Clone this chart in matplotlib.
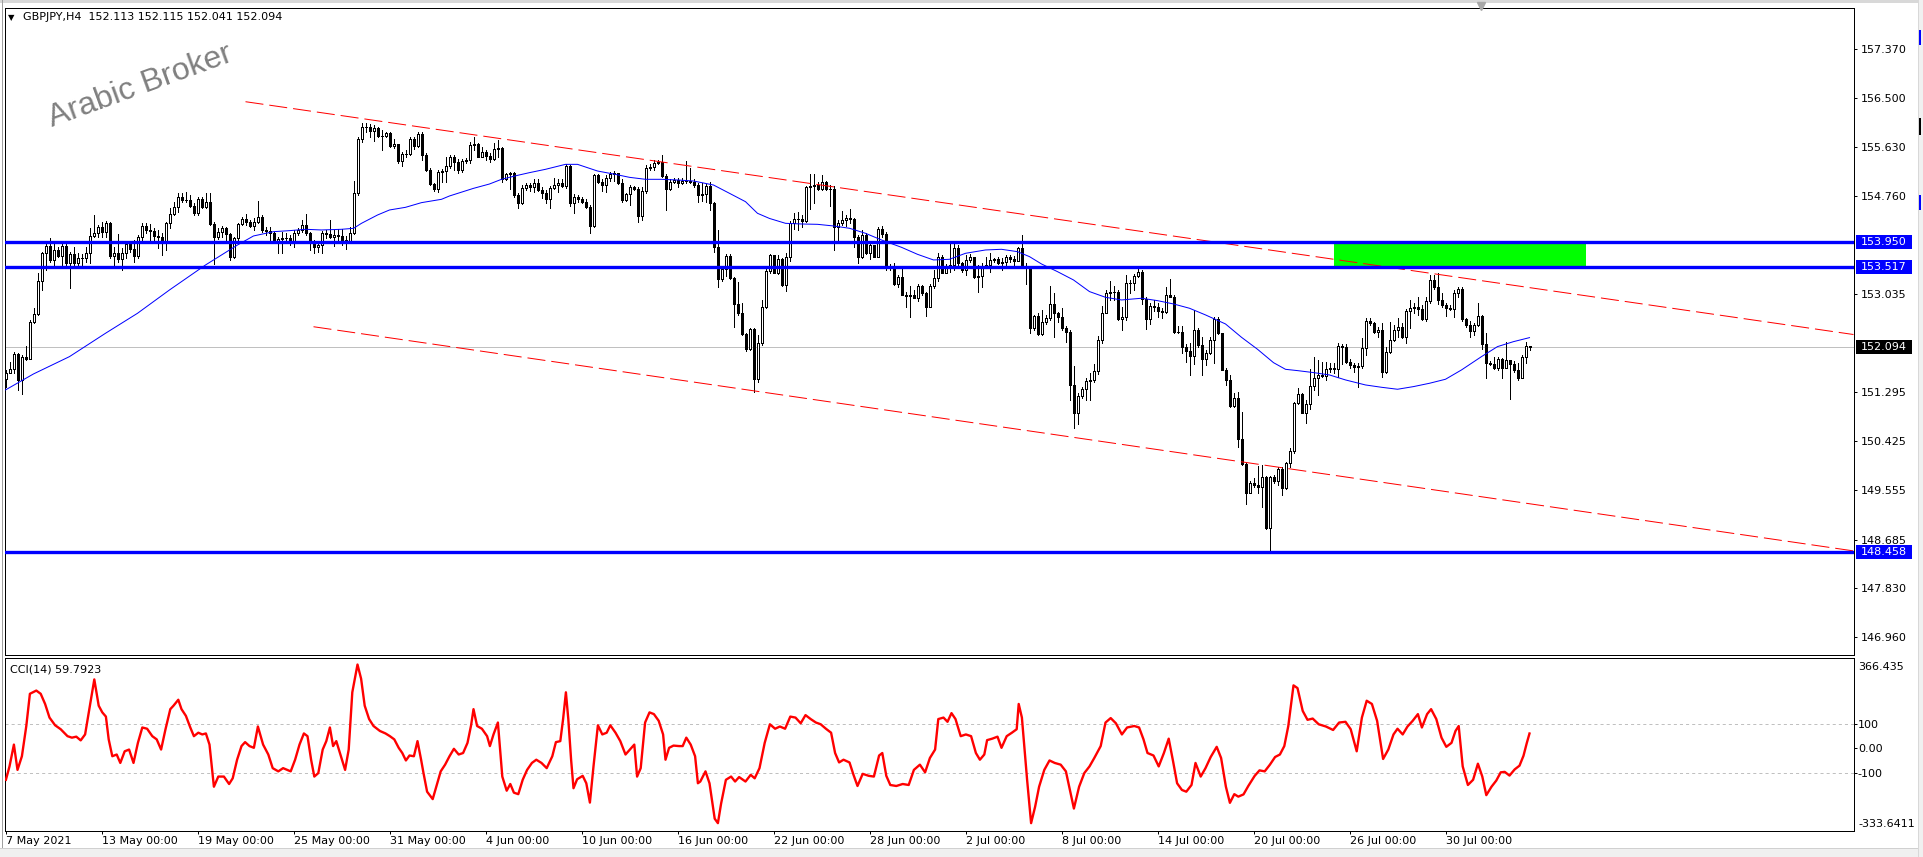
import matplotlib
matplotlib.use("Agg")
import matplotlib.pyplot as plt
from matplotlib.patches import Rectangle
from matplotlib.lines import Line2D
import numpy as np

W, H = 1924, 857
plt.rcParams['font.family'] = ['DejaVu Sans']
plt.rcParams['lines.scale_dashes'] = False

# ---------------- data ----------------
symbol_text = "GBPJPY,H4  152.113 152.115 152.041 152.094"
watermark_text = "Arabic Broker"
cci_title = "CCI(14) 59.7923"

open_first = 151.523
closes = [
151.641,151.700,151.965,151.511,151.924,151.888,152.544,152.673,153.269,153.765,153.889,153.635,
153.812,153.706,153.883,153.576,153.741,153.576,153.670,153.676,153.765,154.060,154.119,154.213,
154.136,154.284,153.706,153.753,153.647,153.765,153.918,153.824,153.706,154.048,154.237,154.166,
154.154,154.060,154.036,153.942,154.284,154.449,154.567,154.744,154.697,154.691,154.591,154.461,
154.714,154.579,154.667,154.272,154.048,154.137,154.207,154.095,153.694,154.018,154.272,154.355,
154.313,154.237,154.313,154.390,154.166,154.154,154.107,153.960,154.001,154.030,154.018,153.930,
154.107,154.166,154.248,154.107,153.960,153.859,153.906,154.119,154.095,154.048,154.071,154.054,
153.989,153.960,154.107,154.815,155.771,155.983,155.989,155.924,155.965,155.830,155.824,155.877,
155.659,155.682,155.393,155.511,155.505,155.771,155.653,155.859,155.493,155.228,154.980,154.886,
155.198,155.210,155.299,155.452,155.375,155.228,155.393,155.405,155.665,155.688,155.464,155.552,
155.476,155.417,155.594,155.611,155.063,155.157,155.181,154.785,154.638,154.903,154.962,154.921,
154.992,154.874,154.826,154.720,154.903,154.962,154.992,154.945,155.299,154.638,154.744,154.714,
154.661,154.579,154.237,155.139,155.009,154.962,155.080,155.157,155.169,155.004,154.697,154.797,
154.921,154.891,154.414,154.862,155.257,155.287,155.358,155.375,155.122,154.886,155.021,155.051,
154.992,155.039,155.027,155.015,154.962,154.785,154.797,154.945,154.638,153.871,153.292,153.469,
153.706,153.310,152.856,152.691,152.325,152.054,152.419,151.523,152.160,152.797,153.440,153.723,
153.411,153.647,153.192,153.682,154.296,154.355,154.367,154.331,154.921,154.945,154.968,154.886,
155.010,154.892,154.886,154.225,154.296,154.343,154.373,154.355,154.036,153.682,154.078,153.765,
153.900,153.694,154.178,154.095,153.487,153.529,153.210,153.328,153.016,152.998,153.016,152.968,
153.175,153.045,152.809,153.175,153.310,153.694,153.411,153.529,153.547,153.842,153.576,153.458,
153.635,153.682,153.328,153.352,153.529,153.547,153.635,153.647,153.588,153.600,153.682,153.647,
153.623,153.842,153.529,153.487,152.425,152.644,152.325,152.543,152.602,152.856,152.691,152.632,
152.425,152.366,151.422,150.921,151.228,151.346,151.493,151.511,151.676,152.219,152.703,153.045,
153.075,153.069,152.585,152.620,153.222,153.234,153.352,153.428,152.939,152.585,152.821,152.797,
152.732,152.721,153.016,152.986,152.366,152.354,152.101,152.030,151.936,152.396,152.130,151.877,
151.995,152.219,152.585,152.337,151.688,151.511,151.051,151.187,150.461,150.024,149.517,149.682,
149.653,149.623,149.800,148.886,149.800,149.729,149.930,149.594,150.036,150.254,151.098,151.257,
150.933,151.086,151.405,151.540,151.599,151.582,151.700,151.717,151.700,152.113,152.089,151.835,
151.776,151.747,151.759,152.072,152.561,152.526,152.366,152.396,151.658,152.001,152.219,152.396,
152.443,152.266,152.738,152.779,152.809,152.762,152.585,152.909,153.281,153.151,152.927,152.839,
152.779,152.762,153.045,153.116,152.585,152.485,152.384,152.485,152.644,152.148,151.806,151.794,
151.717,151.877,151.717,151.865,151.788,151.688,151.540,151.924,152.113,152.094]
highs = [
151.688,151.836,152.012,151.983,151.953,152.113,152.573,152.780,153.399,153.782,153.930,154.030,
153.960,153.871,153.960,153.960,153.782,153.871,153.753,153.741,153.871,154.195,154.431,154.254,
154.313,154.331,154.313,153.871,154.089,153.841,153.960,153.960,153.989,154.078,154.284,154.284,
154.272,154.195,154.166,154.107,154.313,154.549,154.667,154.827,154.815,154.844,154.785,154.638,
154.756,154.756,154.815,154.815,154.313,154.195,154.237,154.225,154.107,154.048,154.296,154.402,
154.449,154.343,154.372,154.685,154.431,154.225,154.225,154.137,154.048,154.137,154.107,154.078,
154.166,154.195,154.343,154.449,154.137,153.989,153.942,154.154,154.166,154.343,154.166,154.178,
154.184,154.060,154.225,155.039,155.818,156.066,156.054,156.042,156.030,155.995,155.936,155.906,
155.906,155.771,155.682,155.552,155.582,155.806,155.818,155.901,155.906,155.535,155.257,155.004,
155.228,155.246,155.464,155.493,155.493,155.417,155.417,155.434,155.729,155.818,155.700,155.641,
155.582,155.523,155.700,155.759,155.629,155.181,155.198,155.198,154.815,154.962,154.992,155.004,
155.063,155.063,154.933,154.874,154.945,155.080,155.063,155.063,155.334,155.316,154.803,154.785,
154.756,154.709,154.608,155.157,155.157,155.063,155.139,155.198,155.216,155.122,155.063,154.827,
154.962,154.945,154.921,154.921,155.316,155.334,155.405,155.405,155.493,155.157,155.063,155.080,
155.080,155.080,155.387,155.257,155.063,155.004,154.992,154.974,155.021,154.667,154.166,153.528,
153.741,153.741,153.340,153.251,152.868,152.349,152.425,152.431,152.307,152.927,153.470,153.741,
153.729,153.724,153.665,153.753,154.331,154.461,154.490,154.432,154.945,155.157,155.157,155.022,
155.140,155.039,154.963,154.945,154.343,154.508,154.432,154.532,154.373,154.078,154.166,154.107,
153.918,153.905,154.225,154.237,154.137,153.564,153.576,153.370,153.487,153.075,153.175,153.104,
153.210,153.192,153.075,153.210,153.458,153.753,153.724,153.564,153.960,153.977,153.900,153.606,
153.724,153.741,153.694,153.547,153.576,153.694,153.753,153.665,153.694,153.665,153.724,153.724,
153.706,153.871,154.078,153.576,153.517,152.662,152.691,152.750,152.662,153.175,153.057,152.721,
152.780,152.466,152.396,151.759,151.275,151.393,151.540,151.629,151.794,152.290,152.821,153.104,
153.269,153.175,153.104,152.809,153.370,153.281,153.387,153.505,153.458,152.986,152.868,152.927,
152.868,152.780,153.163,153.293,153.016,152.466,152.466,152.148,152.160,152.750,152.425,152.278,
152.042,152.278,152.620,152.620,152.349,151.718,151.600,151.287,151.305,150.951,150.048,149.729,
149.770,149.989,150.006,149.812,149.812,149.829,149.977,149.965,150.065,150.302,151.127,151.364,
151.275,151.157,151.700,151.912,151.865,151.835,151.835,151.806,151.806,152.160,152.148,152.148,
151.877,151.818,151.806,152.248,152.602,152.602,152.543,152.455,152.526,152.101,152.543,152.484,
152.602,152.514,152.762,152.927,152.868,152.986,152.839,152.986,153.370,153.370,153.411,153.045,
152.868,152.839,153.104,153.151,153.151,152.602,152.561,152.526,152.868,152.662,152.349,151.853,
151.912,151.924,151.894,152.189,151.818,151.853,151.806,151.947,152.189,152.115]
lows = [
151.391,151.629,151.629,151.334,151.263,151.865,151.876,152.526,152.662,153.104,153.458,153.605,
153.546,153.694,153.546,153.546,153.145,153.546,153.546,153.535,153.605,153.576,154.048,154.048,
154.048,154.048,153.665,153.546,153.605,153.458,153.665,153.782,153.605,153.665,153.960,154.107,
153.960,153.989,153.841,153.723,153.812,154.195,154.431,154.490,154.667,154.667,154.579,154.431,
154.431,154.549,154.549,154.254,153.564,153.999,154.048,153.989,153.635,153.665,153.989,154.254,
154.254,154.225,154.166,154.296,154.136,154.078,153.989,153.930,153.765,153.765,153.930,153.901,
153.859,154.078,154.137,154.078,153.812,153.765,153.782,153.765,154.018,154.018,153.889,153.930,
153.901,153.830,153.942,154.095,154.785,155.729,155.906,155.818,155.747,155.806,155.582,155.818,
155.641,155.611,155.346,155.299,155.464,155.493,155.594,155.641,155.405,155.216,154.962,154.862,
154.844,155.021,155.021,155.257,155.228,155.169,155.198,155.346,155.358,155.582,155.452,155.452,
155.405,155.375,155.405,155.464,155.021,155.051,154.886,154.756,154.549,154.626,154.874,154.862,
154.844,154.862,154.726,154.638,154.549,154.886,154.844,154.921,154.909,154.590,154.473,154.667,
154.638,154.549,154.119,154.225,154.992,154.862,154.844,155.039,155.039,154.980,154.667,154.685,
154.608,154.874,154.313,154.343,154.815,155.228,155.228,155.334,155.098,154.520,154.874,154.992,
154.921,154.980,155.004,154.992,154.933,154.667,154.685,154.667,154.520,153.782,153.151,153.269,
153.351,153.292,152.455,152.662,152.307,152.030,152.042,151.305,151.482,152.130,152.780,153.411,
153.399,153.387,153.175,153.092,153.623,154.178,154.166,154.225,154.313,154.532,154.650,154.874,
154.874,154.874,154.591,153.812,153.960,154.255,154.237,154.284,153.859,153.588,153.665,153.741,
153.647,153.682,153.682,154.048,153.458,153.458,153.192,153.163,153.016,152.809,152.620,152.957,
152.915,153.016,152.644,152.797,153.133,153.269,153.399,153.399,153.428,153.458,153.547,153.428,
153.370,153.606,153.310,153.075,153.163,153.487,153.428,153.606,153.564,153.458,153.547,153.606,
153.529,153.617,153.505,153.210,152.349,152.396,152.307,152.307,152.502,152.573,152.278,152.543,
152.396,152.189,151.157,150.655,150.732,151.187,151.157,151.157,151.481,151.617,152.160,152.691,
152.927,152.927,152.573,152.396,152.573,153.057,153.104,153.328,152.856,152.408,152.502,152.738,
152.632,152.602,152.703,152.974,152.349,152.337,151.995,151.835,151.599,151.794,152.101,151.599,
151.777,151.971,151.806,152.325,151.688,151.422,151.039,151.039,150.319,150.006,149.316,149.505,
149.623,149.505,149.269,148.868,148.455,149.694,149.653,149.475,149.576,149.977,150.213,151.086,
150.921,150.744,150.992,151.334,151.245,151.570,151.511,151.659,151.629,151.570,151.794,151.818,
151.717,151.658,151.393,151.717,151.954,152.484,152.337,152.278,151.570,151.629,151.983,152.207,
152.278,152.248,152.172,152.425,152.691,152.661,152.573,152.561,152.868,153.116,152.856,152.797,
152.644,152.750,152.632,152.986,152.561,152.443,152.278,152.307,152.467,152.054,151.540,151.776,
151.700,151.688,151.540,151.759,151.169,151.658,151.511,151.540,151.806,152.041]

ma_bars = [0, 7, 16, 25, 33, 41, 50, 58, 62, 67, 71, 75, 79, 84, 87, 89, 93, 96, 100, 104, 109,
           111, 117, 121, 124, 128, 131, 135, 140, 143, 148, 152, 156, 160, 164, 168, 172, 177, 181,
           185, 188, 191, 195, 199, 203, 207, 211, 215, 219, 224, 228, 232, 236, 240, 245, 249, 253,
           256, 259, 263, 267, 271, 275, 279, 284, 288, 292, 296, 300, 305, 309, 313, 317, 320, 323,
           327, 331, 335, 340, 344, 348, 352, 356, 360, 364, 369, 373, 377, 381]
ma_values = [151.334, 151.617, 151.924, 152.337, 152.691, 153.104, 153.546, 153.900, 154.060, 154.136,
             154.154, 154.178, 154.166, 154.178, 154.195, 154.284, 154.431, 154.520, 154.567, 154.650,
             154.709, 154.768, 154.903, 154.980, 155.063, 155.133, 155.181, 155.240, 155.328, 155.328,
             155.210, 155.157, 155.098, 155.063, 155.063, 155.051, 155.033, 154.962, 154.815, 154.667,
             154.461, 154.370, 154.284, 154.272, 154.266, 154.237, 154.196, 154.107, 153.989, 153.859,
             153.735, 153.635, 153.647, 153.753, 153.812, 153.824, 153.782, 153.694, 153.564, 153.428,
             153.281, 153.075, 152.974, 152.927, 152.957, 152.915, 152.856, 152.780, 152.662, 152.502,
             152.266, 152.054, 151.817, 151.699, 151.676, 151.641, 151.599, 151.511, 151.422, 151.381,
             151.346, 151.393, 151.452, 151.523, 151.688, 151.924, 152.101, 152.189, 152.260]

cci_bars = [
0.1,1.0,2.1,3.0,4.1,5.2,6.1,7.7,8.8,9.9,11.0,12.4,13.8,15.5,16.6,17.7,18.8,19.9,21.1,22.2,23.3,24.2,25.1,
25.8,26.7,27.8,28.7,29.8,30.9,32.0,33.1,34.2,35.4,36.7,37.8,38.9,40.0,41.2,42.0,43.2,44.0,45.1,46.2,47.1,
48.2,49.2,50.1,51.0,52.1,53.2,54.6,55.9,56.8,57.9,59.0,59.9,61.0,62.1,63.1,64.4,65.7,66.8,68.2,69.4,70.4,
71.3,72.4,73.5,74.6,75.5,76.4,77.2,78.2,79.3,80.2,81.1,81.9,82.7,83.6,84.9,85.8,86.7,88.0,88.9,89.8,90.9,
92.0,93.6,95.0,96.1,97.2,98.3,99.2,100.1,101.0,102.1,103.0,103.9,104.5,105.4,106.8,107.7,108.8,109.9,111.0,
112.1,113.3,114.4,115.5,116.4,117.0,117.9,119.1,120.4,121.1,122.0,123.1,124.2,125.3,126.2,127.1,128.2,129.3,
130.4,131.6,132.7,134.0,135.3,136.7,137.6,138.7,139.4,140.1,140.7,141.4,142.0,142.9,144.3,145.2,146.1,147.0,
148.1,149.2,150.3,151.2,152.5,153.7,155.0,156.1,157.2,157.9,158.8,159.9,161.0,162.1,163.3,164.4,165.0,165.9,
167.0,168.4,169.3,170.2,171.3,172.4,173.1,173.7,
175.0,176.0,177.3,178.1,178.9,180.1,181.4,182.4,183.4,185.0,186.3,187.3,188.5,189.8,191.1,192.4,193.6,194.9,
196.2,197.5,198.8,200.0,201.3,202.6,203.8,205.1,206.4,207.4,208.4,209.5,211.0,212.0,213.0,214.3,215.8,217.1,
218.4,219.2,220.2,221.2,222.7,224.3,225.8,227.1,228.6,229.9,231.1,232.4,233.2,234.5,235.5,236.5,237.5,238.8,
240.1,241.4,242.6,243.6,244.7,245.4,246.7,248.0,249.0,250.3,251.6,252.8,253.3,254.1,255.4,256.4,257.4,258.4,
259.7,261.0,262.3,263.8,265.1,266.1,267.1,268.4,269.7,271.0,272.2,273.8,275.0,276.3,277.6,279.1,280.4,282.2,
283.4,284.5,285.5,287.0,288.3,289.6,290.8,291.9,292.9,294.1,295.2,296.5,297.5,298.8,300.0,301.3,302.8,303.9,
305.1,306.1,307.2,308.2,309.5,310.7,312.3,313.5,314.8,316.1,317.4,318.6,319.7,320.7,322.0,323.0,324.3,325.5,
326.8,328.3,330.1,331.9,333.4,335.0,336.3,337.8,339.1,340.3,341.6,342.9,344.4,345.7,347.0,348.0,349.3,350.5,
351.8,353.1,354.1,355.4,356.4,357.7,359.0,360.2,361.5,362.5,363.3,364.3,365.6,366.9,368.1,369.2,370.2,371.5,
372.7,373.8,374.8,376.0,377.3,378.5,379.5,380.3,381.0]
cci_values = [
-127,-73,15,-87,-32,90,220,233,220,179,124,93,77,49,43,47,32,56,172,278,172,145,128,
36,-32,-25,-59,-12,-5,-59,22,84,79,49,36,-5,77,158,172,196,158,131,84,49,
63,56,60,15,-155,-114,-114,-144,-121,-46,9,25,9,2,88,15,-25,-80,-93,-80,-87,
-93,-46,15,60,49,-46,-114,-100,-5,29,84,9,29,-19,-87,-5,226,338,281,172,118,
90,70,60,49,36,2,-19,-49,-29,-32,29,-46,-100,-175,-205,-155,-93,-66,-32,
-2,-25,-19,22,93,158,90,79,49,9,56,104,-114,-171,-144,-179,-185,-127,
-87,-59,-46,-59,-80,-32,25,29,118,226,118,-46,-161,-125,-111,-141,-219,-73,
93,56,63,93,63,29,-25,-5,15,-114,-80,104,145,138,111,56,-46,2,
11,9,9,43,15,-32,-141,-134,
-93,-141,-284,-302,-223,-127,-114,-134,-116,-134,-107,-121,-80,22,97,79,88,79,
128,124,101,134,118,104,97,79,63,-19,-57,-46,-57,-107,-152,-103,-111,-114,
-29,-19,-111,-148,-152,-144,-148,-87,-66,-97,-39,-5,118,124,107,142,118,49,
56,49,-19,-46,-25,33,39,47,2,49,63,77,179,124,-127,-302,-236,-155,
-87,-49,-59,-66,-93,-168,-243,-155,-100,-73,-39,9,104,122,101,56,84,90,
84,36,-19,-29,-73,-19,39,-53,-141,-168,-175,-148,-59,-114,-80,-35,6,-39,
-155,-220,-185,-195,-186,-152,-111,-89,-93,-66,-35,-25,9,90,254,243,151,115,
120,97,88,74,104,107,77,-12,124,192,179,111,-43,-5,56,79,56,88,
111,138,84,138,158,118,43,6,22,70,90,-73,-148,-127,-62,-114,-189,-155,
-130,-97,-95,-110,-85,-70,-30,20,59.7923]

date_ticks = [0, 24, 48, 72, 96, 120, 144, 168, 192, 216, 240, 264, 288, 312, 336, 360]
date_labels = ["7 May 2021", "13 May 00:00", "19 May 00:00", "25 May 00:00", "31 May 00:00",
               "4 Jun 00:00", "10 Jun 00:00", "16 Jun 00:00", "22 Jun 00:00", "28 Jun 00:00",
               "2 Jul 00:00", "8 Jul 00:00", "14 Jul 00:00", "20 Jul 00:00", "26 Jul 00:00",
               "30 Jul 00:00"]

price_ticks = [157.370, 156.500, 155.630, 154.760, 153.035, 151.295, 150.425, 149.555,
               148.685, 147.830, 146.960]
price_range = [146.641, 158.096]
level_prices = [153.950, 153.517, 148.458]
bid_price = 152.094
zone_bars = [332, 395]
zone_prices = [153.517, 153.950]
upper_line_bars = [60, 462]
upper_line_prices = [156.437, 152.315]
lower_line_bars = [77, 462]
lower_line_prices = [152.453, 148.484]

cci_range = [-333.6411, 366.435]
cci_levels = [100, -100]
cci_ticks = [100, 0, -100]
cci_tick_labels = ["100", "0.00", "-100"]

# ---------------- figure ----------------
fig = plt.figure(figsize=(W / 100, H / 100), dpi=100)
fig.patch.set_facecolor('white')

def fx(px):
    return px / W

def fy(py):
    return 1 - py / H

PX = 0.72  # one pixel in points
L, R = 4.5, 1853.5
MT, MB = 8, 655
CT, CB = 657.5, 831

ax = fig.add_axes([fx(L), fy(MB), (R - L) / W, (MB - MT) / H])
ax2 = fig.add_axes([fx(L), fy(CB), (R - L) / W, (CB - CT) / H])

xlim = ((L - 5.5) / 4, (R - 5.5) / 4)
for a in (ax, ax2):
    a.set_xlim(*xlim)
    a.set_facecolor('white')
    for s in a.spines.values():
        s.set_color('black')
        s.set_linewidth(PX)

ax.set_ylim(*price_range)
ax2.set_ylim(*cci_range)

# zone
ax.add_patch(Rectangle((zone_bars[0], zone_prices[0]), zone_bars[1] - zone_bars[0],
                       zone_prices[1] - zone_prices[0], facecolor='#00FF00',
                       edgecolor='none', zorder=1))
# bid line
ax.axhline(bid_price, color='#C0C0C0', lw=PX, zorder=1.2)

# candles
c = np.array(closes)
o = np.concatenate([[open_first], c[:-1]])
o[-1] = 152.113
h = np.maximum(np.array(highs), np.maximum(o, c))
lo = np.minimum(np.array(lows), np.minimum(o, c))
x = np.arange(len(c))
ax.vlines(x, lo, h, colors='black', linewidth=PX, antialiased=False, zorder=2)
bull = c >= o
ax.bar(x[bull], (c - o)[bull], bottom=o[bull], width=0.5, facecolor='white',
       edgecolor='black', linewidth=PX, antialiased=False, zorder=3)
ax.bar(x[~bull], (o - c)[~bull], bottom=c[~bull], width=0.5, facecolor='black',
       edgecolor='black', linewidth=PX, antialiased=False, zorder=3)

# moving average
ax.plot(ma_bars, ma_values, color='#0000FF', lw=PX, zorder=4)

# channel lines
for bx, py in ((upper_line_bars, upper_line_prices), (lower_line_bars, lower_line_prices)):
    ax.plot(bx, py, color='#FF0000', lw=PX, dashes=(13, 4.3), zorder=5)

# horizontal levels
for lv in level_prices:
    ax.axhline(lv, color='#0000FF', lw=2.4, zorder=6)

# right axis (main)
ax.yaxis.tick_right()
ax.set_yticks(price_ticks)
ax.set_yticklabels([f"{v:.3f}" for v in price_ticks])
ax.tick_params(axis='y', direction='out', length=3 * PX, width=PX, pad=3.2,
               labelsize=8, colors='black')
ax.tick_params(axis='x', bottom=False, labelbottom=False)

ypt = ax.get_yaxis_transform()
axw = R - L
def axx(px):
    return (px - L) / axw
box_h = 14 * (price_range[1] - price_range[0]) / (MB - MT)
for lv, col in [(level_prices[0], '#0000FF'), (level_prices[1], '#0000FF'),
                (level_prices[2], '#0000FF'), (bid_price, 'black')]:
    ax.add_patch(Rectangle((axx(1856), lv - box_h / 2), 56 / axw, box_h, transform=ypt,
                           facecolor=col, edgecolor='none', clip_on=False, zorder=10))
    ax.text(axx(1860.5), lv, f"{lv:.3f}", transform=ypt, color='white', fontsize=8,
            ha='left', va='center', clip_on=False, zorder=11)

# CCI panel
for lv in cci_levels:
    ax2.axhline(lv, color='#C0C0C0', lw=PX, dashes=(2.2, 2.2), zorder=1)
ax2.plot(cci_bars, cci_values, color='#FF0000', lw=1.7, zorder=3)
ax2.yaxis.tick_right()
ax2.set_yticks(cci_ticks)
ax2.set_yticklabels(cci_tick_labels)
ax2.tick_params(axis='y', direction='out', length=3 * PX, width=PX, pad=1.0,
                labelsize=8, colors='black')
ax2.text(1 + 4.5 / axw, 1 - 9.5 / (CB - CT), f"{cci_range[1]:.3f}", transform=ax2.transAxes,
         fontsize=8, ha='left', va='center', clip_on=False)
ax2.text(1 + 4.5 / axw, 7 / (CB - CT), f"{cci_range[0]:.4f}", transform=ax2.transAxes,
         fontsize=8, ha='left', va='center', clip_on=False)

ax2.set_xticks(date_ticks)
ax2.set_xticklabels(date_labels)
ax2.tick_params(axis='x', direction='out', length=3 * PX, width=PX, pad=1.5, labelsize=8)
for t in ax2.get_xticklabels():
    t.set_ha('left')

# texts
fig.text(fx(23), fy(17.5), symbol_text, fontsize=8, ha='left', va='center')
fig.text(fx(8), fy(17.5), '\u25BC', fontsize=6, ha='left', va='center')
fig.text(fx(9.5), fy(669.5), cci_title, fontsize=8, ha='left', va='center')
fig.text(fx(140), fy(86), watermark_text, fontsize=23, color='#808080',
         family='Liberation Sans', rotation=20, rotation_mode='anchor',
         ha='center', va='center')

# chart shift marker
fig.add_artist(Line2D([fx(1481)], [fy(6)], marker='v', markersize=6,
                      color='#A8A8A8', transform=fig.transFigure))

# window chrome
def frect(x0, y0, x1, y1, col):
    fig.patches.append(Rectangle((fx(x0), fy(y1)), (x1 - x0) / W, (y1 - y0) / H,
                                 transform=fig.transFigure, facecolor=col,
                                 edgecolor='none', zorder=-1))
frect(0, 0, W, 3, '#D8D8D8')
frect(1.5, 0, 3, 848, '#A0A0A0')
frect(0, 848, W, H, '#F0F0F0')
frect(0, 848, W, 849, '#D0D0D0')
frect(1918, 0, W, H, '#F0F0F0')
frect(1918, 0, 1919, H, '#D8D8D8')
frect(1919, 30, 1921, 45, '#0000FF')
frect(1919, 118, 1921, 135, '#000000')
frect(1919, 195, 1921, 210, '#0000FF')

fig.savefig('out.png', dpi=100, facecolor='white')
